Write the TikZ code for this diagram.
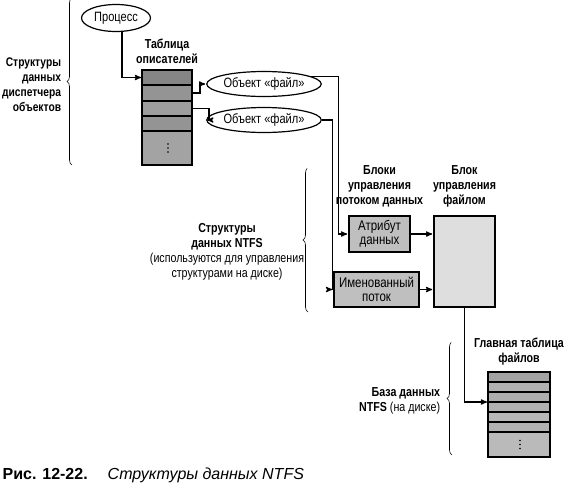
\documentclass[tikz,border=0pt]{standalone}
\usepackage{fontspec}
\setmainfont{Liberation Sans}[FakeStretch=0.82]
\newfontfamily\capfont{Liberation Sans}
\usetikzlibrary{shapes,arrows,positioning,decorations.pathreplacing}

\begin{document}
\fontsize{13}{15}\selectfont
\begin{tikzpicture}[->,>=stealth',shorten >=1pt,x=1pt,y=-1pt,line width=1.2pt,
  obj node/.style={ellipse,draw,fill=white,inner sep=0pt,minimum width=85pt,minimum height=25pt,
    font=\fontsize{13.5}{15}\selectfont},
  row node/.style={rectangle,draw,line width=1.6pt,fill=black!42,outer sep=0pt,inner sep=0pt,minimum width=50pt},
  blk node/.style={rectangle,draw,line width=1.6pt,fill=black!25,align=center,inner sep=0pt,
    font=\fontsize{14}{14.5}\selectfont},
  lbl/.style={align=center,font=\bfseries},
  brc/.style={-,line width=0.6pt,decorate,decoration={brace,amplitude=5pt}}]

  \useasboundingbox (0,0) rectangle (570,491);

  \node[obj node,minimum width=69pt,minimum height=27pt] (proc) at (116,18) {Процесс};

  % handle table
  \node[row node,minimum height=15pt,fill=black!48] (ht1) at (167,77.5) {};
  \node[row node,minimum height=16pt] (ht2) [below=0pt of ht1] {};
  \node[row node,minimum height=15pt,fill=black!38] (ht3) [below=0pt of ht2] {};
  \node[row node,minimum height=15pt] (ht4) [below=0pt of ht3] {};
  \node[row node,minimum height=34pt,fill=black!36] (ht5) [below=0pt of ht4] {};
  \node[lbl] (htlbl) [above=1pt of ht1] {Таблица\\описателей};

  \node[obj node] (obj1) at (264,84) {Объект «файл»};
  \node[obj node] (obj2) at (264,120) {Объект «файл»};

  % NTFS blocks
  \node[blk node,minimum width=61pt,minimum height=36pt] (attr) at (379.5,234) {Атрибут\\данных};
  \node[blk node,minimum width=85pt,minimum height=35pt] (nstr) at (376.5,289.5) {Именованный\\поток};
  \node[blk node,fill=black!13,minimum width=61pt,minimum height=91pt] (fcb) at (464.5,261.5) {};
  \node[lbl] (sblbl) [above=3pt of attr] {Блоки\\управления\\потоком данных};
  \node[lbl] (fcblbl) [above=3pt of fcb] {Блок\\управления\\файлом};

  % master file table
  \node[row node,minimum width=62pt,minimum height=10pt,fill=black!36] (m1) at (519,377) {};
  \node[row node,minimum width=62pt,minimum height=10pt,fill=black!30] (m2) [below=0pt of m1] {};
  \node[row node,minimum width=62pt,minimum height=10pt,fill=black!32] (m3) [below=0pt of m2] {};
  \node[row node,minimum width=62pt,minimum height=10pt,fill=black!30] (m4) [below=0pt of m3] {};
  \node[row node,minimum width=62pt,minimum height=10pt,fill=black!28] (m5) [below=0pt of m4] {};
  \node[row node,minimum width=62pt,minimum height=10pt,fill=black!30] (m6) [below=0pt of m5] {};
  \node[row node,minimum width=62pt,minimum height=25pt,fill=black!27] (m7) [below=0pt of m6] {};
  \node[lbl] (mftlbl) [above=2pt of m1] {Главная таблица\\файлов};

  % dots in the last rows
  \foreach \d in {-4,0,4} {
    \fill (ht5.center) ++(1,\d) circle (0.9pt);
    \fill (m7.center) ++(1,\d) circle (0.9pt);
  }

  \draw (proc.south) ++(6,0) |- (ht1.west);
  \draw (ht2.east) -- ++(8,0) |- (obj1.west);
  \draw (ht3.east) -- ++(17,0) |- (obj2.west);
  \draw (obj1.9) -- ++(27,0) |- (attr.west);
  \draw (obj2.east) -- ++(11,0) |- (nstr.west);
  \draw (attr.east) -- (attr.east -| fcb.west);
  \draw (nstr.east) -- (nstr.east -| fcb.west);
  \draw (fcb.south) |- (m4.north west);

  % braces and their labels
  \draw[brc] (72,165) -- (72,-2);
  \draw[brc] (308,312) -- (308,168);
  \draw[brc] (452,455) -- (452,342);
  \node[lbl,align=right,anchor=east,font=\fontsize{12.5}{15}\selectfont\bfseries] (omlbl) at (66,84.5)
    {Структуры\\данных\\диспетчера\\объектов};
  \node[align=center] (ntfslbl) at (227,252) {\textbf{Структуры}\\\textbf{данных NTFS}\\(используются для управления\\структурами на диске)};
  \node[align=right,anchor=east] (dblbl) at (445,400.5) {\textbf{База данных}\\\textbf{NTFS} (на диске)};

  \node[anchor=base west,inner sep=0pt,font=\capfont\fontsize{16}{19}\selectfont] (cap) at (2,479)
    {\textbf{Рис. 12-22.}\hspace{20pt}\textit{Структуры данных NTFS}};
\end{tikzpicture}
\end{document}
